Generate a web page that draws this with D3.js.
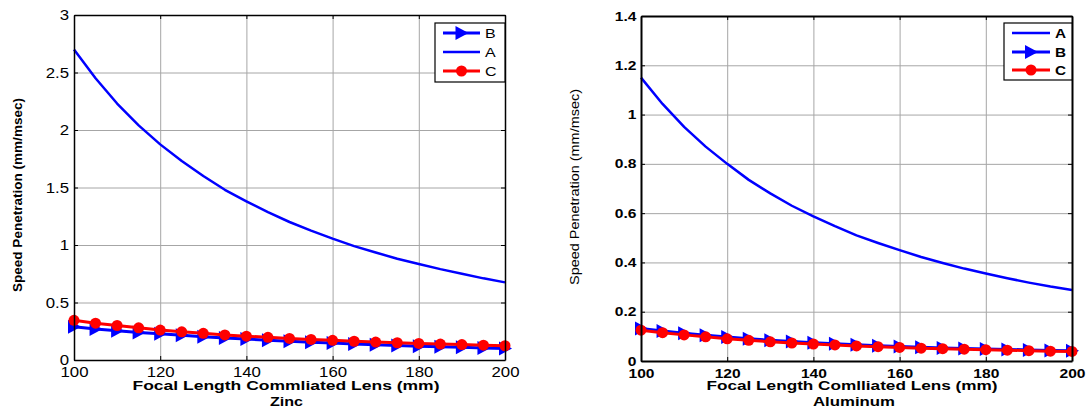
<!DOCTYPE html>
<html lang="en">
<head>
<meta charset="UTF-8">
<title>Speed Penetration vs Focal Length</title>
<script src="https://d3js.org/d3.v7.min.js"></script>
<style>
  body { margin: 0; background: #fff; }
  svg { display: block; font-family: "Liberation Sans", Arial, sans-serif; }
</style>
</head>
<body>
<svg id="chart" width="1088" height="411"></svg>
<script>
// focal length of the collimating lens (mm)
const focal = [100, 105, 110, 115, 120, 125, 130, 135, 140, 145, 150,
               155, 160, 165, 170, 175, 180, 185, 190, 195, 200];
const xTicks = [100, 120, 140, 160, 180, 200];

// Zinc
const zincA = [2.70, 2.45, 2.23, 2.04, 1.875, 1.73, 1.60, 1.48, 1.38, 1.285, 1.20,
               1.125, 1.055, 0.99, 0.935, 0.88, 0.835, 0.79, 0.75, 0.71, 0.675];
const zincB = [0.29, 0.27, 0.255, 0.24, 0.228, 0.215, 0.203, 0.192, 0.182, 0.172, 0.163,
               0.155, 0.147, 0.14, 0.133, 0.126, 0.12, 0.115, 0.11, 0.105, 0.10];
const zincC = [0.345, 0.32, 0.30, 0.28, 0.26, 0.245, 0.232, 0.218, 0.207, 0.197, 0.188,
               0.179, 0.171, 0.163, 0.156, 0.15, 0.144, 0.139, 0.134, 0.129, 0.124];
const zincYTicks = [0, 0.5, 1, 1.5, 2, 2.5, 3];

// Aluminum
const alA = [1.15, 1.043, 0.95, 0.87, 0.80, 0.735, 0.68, 0.63, 0.587, 0.547, 0.51,
             0.479, 0.45, 0.422, 0.398, 0.375, 0.355, 0.336, 0.318, 0.302, 0.288];
const alB = [0.132, 0.122, 0.113, 0.105, 0.097, 0.09, 0.084, 0.079, 0.074, 0.07, 0.066,
             0.062, 0.059, 0.056, 0.053, 0.051, 0.049, 0.047, 0.045, 0.043, 0.042];
const alC = [0.125, 0.115, 0.106, 0.098, 0.09, 0.084, 0.078, 0.073, 0.069, 0.065, 0.061,
             0.058, 0.055, 0.052, 0.05, 0.048, 0.046, 0.044, 0.042, 0.04, 0.039];
const alYTicks = [0, 0.2, 0.4, 0.6, 0.8, 1, 1.2, 1.4];

const svg = d3.select("#chart");
const triangle = "M-6,-7L7,0L-6,7Z";
const fmt = d3.format("");

function drawMarker(g, kind, color, px, py) {
  if (kind === "tri") {
    g.append("path").attr("d", triangle)
      .attr("transform", `translate(${px},${py})`).attr("fill", color);
  } else if (kind === "dot") {
    g.append("circle").attr("cx", px).attr("cy", py).attr("r", 5.5).attr("fill", color);
  }
}

function drawPanel(p) {
  const x = d3.scaleLinear().domain([100, 200]).range([p.left, p.right]);
  const y = d3.scaleLinear().domain([0, p.yMax]).range([p.bottom, p.top]);
  const g = svg.append("g");
  const weight = p.bold ? "bold" : "normal";

  // grid
  g.append("g").attr("transform", `translate(0,${p.bottom})`)
    .call(d3.axisBottom(x).tickValues(xTicks).tickSize(-(p.bottom - p.top)).tickFormat(""))
    .call(a => a.select(".domain").remove())
    .selectAll("line").attr("stroke", "#a6a6a6");
  g.append("g").attr("transform", `translate(${p.left},0)`)
    .call(d3.axisLeft(y).tickValues(p.yTicks).tickSize(-(p.right - p.left)).tickFormat(""))
    .call(a => a.select(".domain").remove())
    .selectAll("line").attr("stroke", "#a6a6a6");

  // series
  p.series.forEach(s => {
    const pts = focal.map((f, i) => [f, s.values[i]]);
    g.append("path").datum(pts)
      .attr("fill", "none").attr("stroke", s.color).attr("stroke-width", s.width)
      .attr("stroke-linejoin", "round")
      .attr("d", d3.line().x(d => x(d[0])).y(d => y(d[1])));
    if (s.marker) pts.forEach(d => drawMarker(g, s.marker, s.color, x(d[0]), y(d[1])));
  });

  // axes: ticks point inward on all four sides
  const bx = g.append("g").attr("transform", `translate(0,${p.bottom})`)
    .call(d3.axisBottom(x).tickValues(xTicks).tickSizeInner(-4).tickSizeOuter(0).tickFormat(fmt));
  bx.selectAll("text").attr("y", p.xLabelBase).attr("dy", null)
    .attr("font-size", p.tickSize).attr("font-weight", weight)
    .attr("transform", `scale(${p.stretch},1)`);
  const ly = g.append("g").attr("transform", `translate(${p.left},0)`)
    .call(d3.axisLeft(y).tickValues(p.yTicks).tickSizeInner(-4).tickSizeOuter(0).tickFormat(fmt));
  ly.selectAll("text").attr("x", -p.yLabelPad / p.stretch).attr("dy", "0.34em")
    .attr("font-size", p.tickSize).attr("font-weight", weight)
    .attr("transform", `scale(${p.stretch},1)`);
  g.append("g").attr("transform", `translate(0,${p.top})`)
    .call(d3.axisTop(x).tickValues(xTicks).tickSizeInner(-4).tickSizeOuter(0).tickFormat(""));
  g.append("g").attr("transform", `translate(${p.right},0)`)
    .call(d3.axisRight(y).tickValues(p.yTicks).tickSizeInner(-4).tickSizeOuter(0).tickFormat(""));
  g.selectAll(".domain").attr("stroke", "#000").attr("stroke-width", p.axisWidth);
  g.selectAll(".tick line").filter(function () { return this.getAttribute("stroke") !== "#a6a6a6"; })
    .attr("stroke", "#000");
  g.selectAll(".tick text").attr("fill", "#000").attr("font-family", null);

  // axis titles
  g.append("text").attr("x", p.xTitle.cx - p.xTitle.w / 2).attr("y", p.xTitle.y)
    .attr("font-size", 12.5).attr("font-weight", "bold")
    .attr("textLength", p.xTitle.w).attr("lengthAdjust", "spacingAndGlyphs")
    .text(p.xTitle.text);
  g.append("text").attr("x", p.sub.cx - p.sub.w / 2).attr("y", p.sub.y)
    .attr("font-size", 12.5).attr("font-weight", "bold")
    .attr("textLength", p.sub.w).attr("lengthAdjust", "spacingAndGlyphs")
    .text(p.sub.text);
  g.append("text")
    .attr("transform", `translate(${p.yTitle.x},${p.yTitle.cy + p.yTitle.len / 2}) rotate(-90)`)
    .attr("font-size", 13).attr("font-weight", p.yTitle.weight)
    .attr("textLength", p.yTitle.len).attr("lengthAdjust", "spacingAndGlyphs")
    .text("Speed Penetration (mm/msec)");

  // legend
  const L = p.legend;
  const lg = g.append("g").attr("transform", `translate(${L.x},${L.y})`);
  lg.append("rect").attr("width", L.w).attr("height", L.h)
    .attr("fill", "#fff").attr("stroke", "#000").attr("stroke-width", 1.2);
  L.rows.forEach((name, i) => {
    const s = p.series.find(d => d.name === name);
    const ry = L.rowY[i];
    lg.append("line").attr("x1", L.x1).attr("x2", L.x2).attr("y1", ry).attr("y2", ry)
      .attr("stroke", s.color).attr("stroke-width", s.width);
    if (s.marker) drawMarker(lg, s.marker, s.color, (L.x1 + L.x2) / 2, ry);
    lg.append("text").attr("transform", `translate(${L.tx},${ry}) scale(${L.stretch},1)`)
      .attr("dy", "0.36em").attr("font-size", 13).attr("font-weight", weight)
      .text(name);
  });
}

drawPanel({
  left: 74, right: 505, top: 15, bottom: 360, yMax: 3, yTicks: zincYTicks,
  bold: false, tickSize: 14, stretch: 1.2, xLabelBase: 16.7, yLabelPad: 5, axisWidth: 1.5,
  series: [
    { name: "B", values: zincB, color: "#0000ff", width: 3, marker: "tri" },
    { name: "A", values: zincA, color: "#0000ff", width: 2.5 },
    { name: "C", values: zincC, color: "#ff0000", width: 3, marker: "dot" }
  ],
  xTitle: { text: "Focal Length Commliated Lens (mm)", cx: 286, w: 307, y: 390 },
  sub: { text: "Zinc", cx: 286.5, w: 33, y: 406 },
  yTitle: { x: 22, cy: 195, len: 194, weight: "bold" },
  legend: { x: 435, y: 23, w: 70, h: 59, rows: ["B", "A", "C"], rowY: [10, 29, 48],
            x1: 8, x2: 45, tx: 50, stretch: 1.23 }
});

drawPanel({
  left: 641, right: 1072, top: 16, bottom: 361, yMax: 1.4, yTicks: alYTicks,
  bold: true, tickSize: 12, stretch: 1.3, xLabelBase: 17.3, yLabelPad: 4.5, axisWidth: 2,
  series: [
    { name: "A", values: alA, color: "#0000ff", width: 2.5 },
    { name: "B", values: alB, color: "#0000ff", width: 3, marker: "tri" },
    { name: "C", values: alC, color: "#ff0000", width: 3, marker: "dot" }
  ],
  xTitle: { text: "Focal Length Comlliated Lens (mm)", cx: 852, w: 291, y: 390 },
  sub: { text: "Aluminum", cx: 854, w: 82, y: 406 },
  yTitle: { x: 578.5, cy: 187, len: 196, weight: "normal" },
  legend: { x: 1004, y: 23, w: 68, h: 57, rows: ["A", "B", "C"], rowY: [10, 29, 47],
            x1: 8, x2: 46, tx: 51, stretch: 1.18 }
});
</script>
</body>
</html>
